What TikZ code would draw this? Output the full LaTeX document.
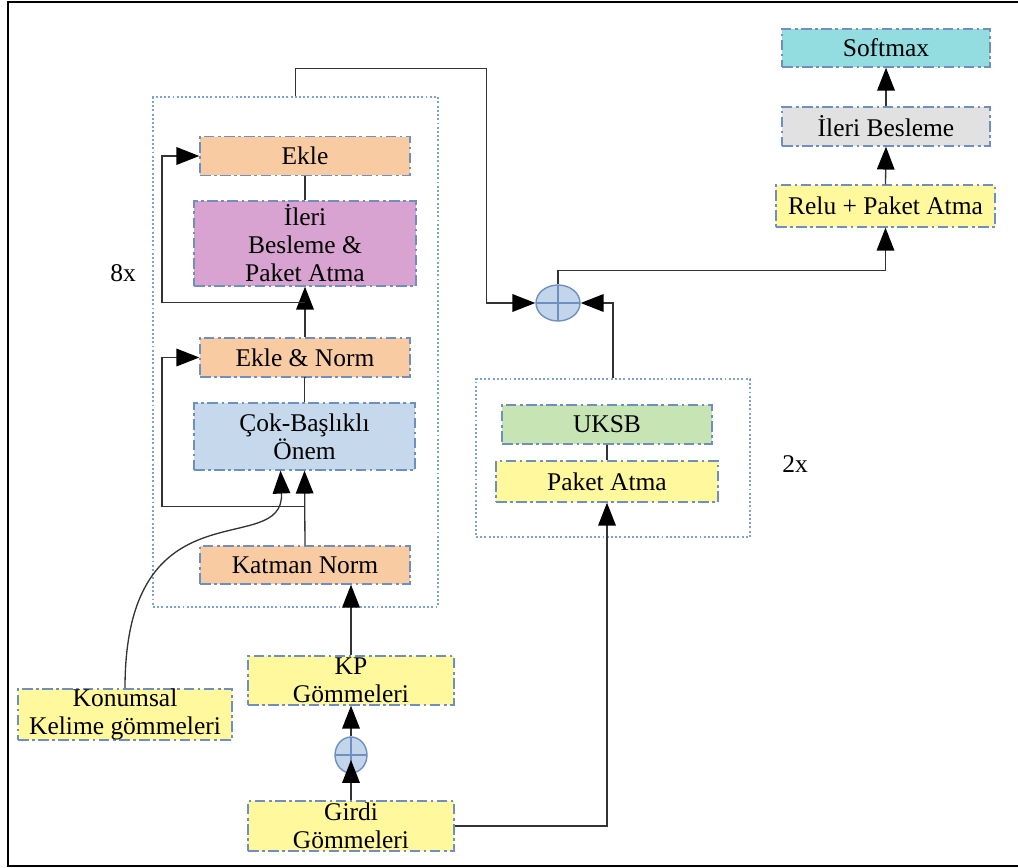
\documentclass[tikz,border=0pt]{standalone}
\usepackage{fontspec}
\setmainfont{LiberationSerif}[Extension=.ttf, UprightFont=*-Regular, BoldFont=*-Bold]
\usetikzlibrary{arrows.meta,shapes.geometric,calc}

\definecolor{peach}{HTML}{F8CBA3}
\definecolor{mauve}{HTML}{D8A3D0}
\definecolor{skyfill}{HTML}{C6D8EC}
\definecolor{lemon}{HTML}{FFF89C}
\definecolor{mint}{HTML}{C6E4B4}
\definecolor{aqua}{HTML}{93DCE0}
\definecolor{silver}{HTML}{E1E1E1}
\definecolor{edgeblue}{HTML}{6E8FC0}
\definecolor{dotblue}{HTML}{7BA3D6}
\definecolor{plusfill}{HTML}{C2D5EB}

\begin{document}
\begin{tikzpicture}[x=0.02cm,y=-0.02cm,
  every node/.style={font=\fontsize{14.5}{16}\selectfont},
  box/.style={draw=edgeblue, line width=0.8pt,
    dash pattern=on 6pt off 2pt on 1.5pt off 2pt,
    inner sep=0pt, align=center},
  group/.style={draw=dotblue, line width=0.9pt,
    dash pattern=on 1.1pt off 1.3pt, inner sep=0pt},
  oplus/.style={ellipse, draw=edgeblue, fill=plusfill, line width=0.8pt,
    inner sep=0pt,
    path picture={\draw[edgeblue, line width=0.8pt]
      (path picture bounding box.north) -- (path picture bounding box.south)
      (path picture bounding box.west) -- (path picture bounding box.east);}},
  conn/.style={line width=0.75pt, draw=black!80},
  arr/.style={conn, -{Triangle[length=13pt,width=10pt,black]}}
]
\useasboundingbox (0,0) rectangle (1018,868);

% outer frame
\draw[line width=1.5pt] (8,2) rectangle (1024,866);

% containers
\node[group, minimum width=5.70cm, minimum height=10.20cm] (blk8) at (295.5,352) {};
\node[group, minimum width=5.48cm, minimum height=3.16cm] (blk2) at (613,458) {};
\node (lab8) at (123,273) {8x};
\node (lab2) at (795,464) {2x};

% encoder block
\node[box, fill=peach, minimum width=4.2cm, minimum height=0.78cm] (ekle) at (305,156) {Ekle};
\node[box, fill=mauve, minimum width=4.44cm, minimum height=1.70cm] (ff) at (305,243.5) {İleri\\Besleme \&\\Paket Atma};
\node[box, fill=peach, minimum width=4.2cm, minimum height=0.78cm] (ekN) at (305,357.5) {Ekle \& Norm};
\node[box, fill=skyfill, minimum width=4.42cm, minimum height=1.34cm] (cok) at (304.5,436.5) {Çok-Başlıklı\\Önem};
\node[box, fill=peach, minimum width=4.2cm, minimum height=0.76cm] (kat) at (305,565) {Katman Norm};

% inputs
\node[box, fill=lemon, minimum width=4.12cm, minimum height=0.98cm] (kp) at (351,680.5) {KP\\Gömmeleri};
\node[oplus, minimum width=0.64cm, minimum height=0.72cm] (plusS) at (351,755) {};
\node[box, fill=lemon, minimum width=4.12cm, minimum height=1.0cm] (girdi) at (351,826) {Girdi\\Gömmeleri};
\node[box, fill=lemon, minimum width=4.28cm, minimum height=1.02cm] (kon) at (125,714.5) {Konumsal\\Kelime gömmeleri};

% convolution branch
\node[box, fill=mint, minimum width=4.2cm, minimum height=0.78cm] (uksb) at (607,424.5) {UKSB};
\node[box, fill=lemon, minimum width=4.44cm, minimum height=0.82cm] (paket) at (607,481.5) {Paket Atma};

% merge and head
\node[oplus, minimum width=0.88cm, minimum height=0.72cm] (plusB) at (558,303) {};
\node[box, fill=lemon, minimum width=4.38cm, minimum height=0.84cm] (relu) at (885.5,206) {Relu + Paket Atma};
\node[box, fill=silver, minimum width=4.16cm, minimum height=0.78cm] (ileri) at (886,126.5) {İleri Besleme};
\node[box, fill=aqua, minimum width=4.16cm, minimum height=0.76cm] (soft) at (886,48) {Softmax};

% encoder connections
\draw[conn] (ekle.south) -- (ff.north);
\draw[arr] (ekN.north) -- (ff.south);
\draw[arr] ($(ff.south)+(0,16)$) -- ++(-143,0) |- (ekle.west);
\draw[conn] (ekN.south) -- (cok.north |- ekN.south) -- (cok.north);
\draw[arr] (kat.north) -- (cok.south);
\draw[arr] ($(kat.north)+(0,-39)$) -- ++(-143,0) |- (ekN.west);
\draw[arr] (kon.north) .. controls +(0,-209) and +(4,90) .. ($(cok.south)+(-24,0)$);

% input connections
\draw[arr] (kp.north) -- (kp.north |- kat.south);
\draw[arr] (plusS.north) -- (kp.south);
\draw[arr] (girdi.north) -- ($(plusS.center)+(0,5)$);
\draw[arr] (girdi.east) -| (paket.south);
\draw[conn] (uksb.south) -- (paket.north);

% merge connections
\draw[arr] (blk8.north) -- ++(0,-28) -| ($(plusB.west)+(-49,0)$) -- (plusB.west);
\draw[arr] (blk2.north) |- (plusB.east);
\draw[arr] (plusB.north) -- ++(0,-14) -| (relu.south);
\draw[arr] (relu.north) -- (ileri.south);
\draw[arr] (ileri.north) -- (soft.south);
\end{tikzpicture}
\end{document}
